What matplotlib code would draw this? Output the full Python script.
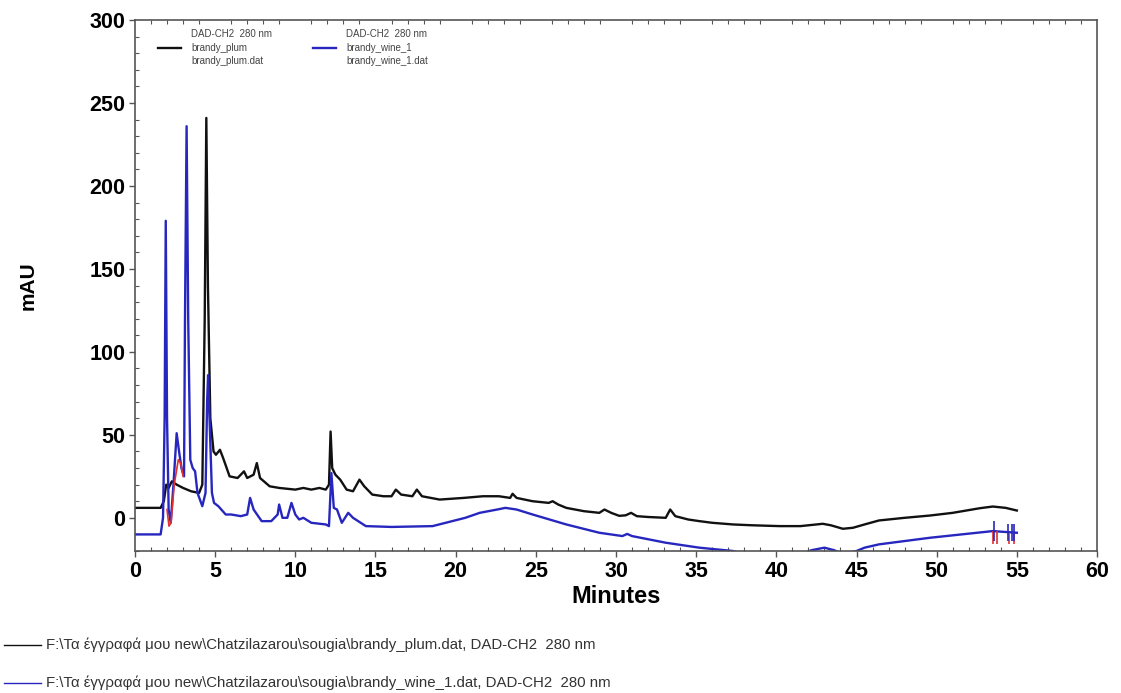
import matplotlib
matplotlib.use("Agg")
import matplotlib.pyplot as plt
from matplotlib.lines import Line2D
from matplotlib.ticker import MultipleLocator

# ---------------- data ----------------
plum_t = [0, 1.6, 1.8, 1.95, 2.1, 2.3, 2.6, 3.0, 3.5, 4.0, 4.2, 4.35, 4.45, 4.55,
          4.7, 4.9, 5.05, 5.3, 5.5, 5.9, 6.4, 6.8, 7.0, 7.4, 7.6, 7.8, 8.4, 9.0,
          10.0, 10.5, 11.0, 11.5, 11.9, 12.1, 12.2, 12.3, 12.5, 12.8, 13.2, 13.6,
          14.0, 14.3, 14.8, 15.5, 16.0, 16.27, 16.6, 17.3, 17.58, 17.9, 19.0, 20.5,
          21.7, 22.7, 23.4, 23.55, 23.8, 24.8, 25.8, 26.05, 26.4, 26.9, 28.0, 28.96,
          29.28, 29.7, 30.2, 30.6, 30.94, 31.3, 32.0, 33.1, 33.38, 33.7, 34.5, 35.2,
          36.0, 37.3, 38.5, 40.2, 41.5, 42.5, 42.9, 43.4, 44.15, 44.78, 45.5, 46.4,
          48.0, 49.6, 51.0, 52.7, 53.5, 54.3, 55.0]
plum_v = [6, 6, 10, 20, 18, 22, 20, 18, 16, 15, 20, 120, 241, 140,
          60, 40, 38, 41, 36, 25, 24, 28, 24, 26, 33, 24, 19, 18,
          17, 18, 17, 18, 17, 20, 52, 30, 26, 23, 17, 16,
          23, 19, 14, 13, 13, 17, 14, 13, 17, 13, 11, 12,
          13, 13, 12, 14.5, 12, 10, 9, 10, 8, 6, 4, 3,
          5, 3, 1.2, 1.5, 3, 1, 0.5, 0, 5, 1, -1, -2,
          -3, -4, -4.5, -5, -5, -4, -3.6, -4.5, -6.6, -6, -4, -1.6,
          0, 1.4, 3, 5.8, 6.8, 6, 4.4]

wine_t = [0, 1.6, 1.75, 1.85, 1.92, 2.0, 2.1, 2.23, 2.4, 2.6, 2.75, 2.9, 3.06, 3.12,
          3.22, 3.32, 3.45, 3.6, 3.75, 3.9, 4.2, 4.4, 4.5, 4.56, 4.65, 4.8, 4.93,
          5.2, 5.66, 6.0, 6.6, 7.0, 7.18, 7.4, 7.9, 8.5, 8.9, 8.99, 9.2, 9.5, 9.76,
          10.0, 10.24, 10.5, 11.0, 11.9, 12.1, 12.25, 12.4, 12.6, 12.9, 13.3, 13.6,
          14.4, 16.0, 18.56, 20.6, 21.5, 22.7, 23.1, 23.8, 24.8, 26.9, 28.96, 30.4,
          30.7, 31.0, 33.1, 35.2, 37.3, 38.0, 40.0, 41.5, 42.2, 43.0, 43.6, 44.2,
          45.0, 45.5, 46.4, 49.6, 53.5, 55.0]
wine_v = [-10, -10, 0, 60, 179, 60, 5, -3, 20, 51, 40, 30, 25, 120,
          236, 120, 35, 30, 28, 15, 7, 15, 70, 86, 60, 15, 9,
          7, 2, 2, 1, 2, 12, 5, -2, -2, 2, 8, 0, 0, 9,
          2, -1, 0, -3, -4, -5, 27, 6, 5, -3, 3, 0,
          -5, -5.5, -5, 0, 3, 5.2, 6, 5, 2, -4, -9, -11,
          -9.7, -11, -15, -18, -20, -22, -24, -22, -19.5, -18, -19.5, -22,
          -20, -18, -16, -12, -8, -9]

# integration overlay (red) near the first peaks
red_t = [2.0, 2.12, 2.25, 2.45, 2.7, 2.85, 3.0]
red_v = [5, -5, -3, 20, 35, 33, 25]

# event marks at the end of the run
mark_blue_t = [53.6, 54.45, 54.7, 54.85]
mark_blue_lo = [-14, -14, -14, -14]
mark_blue_hi = [-2, -4, -4, -4]
mark_red_t = [53.5, 53.75, 54.5, 54.8]
mark_red_lo = [-16, -16, -16, -16]
mark_red_hi = [-8, -8, -9, -9]

x_ticks = [0, 5, 10, 15, 20, 25, 30, 35, 40, 45, 50, 55, 60]
y_ticks = [0, 50, 100, 150, 200, 250, 300]

legend_labels = ["DAD-CH2  280 nm\nbrandy_plum\nbrandy_plum.dat",
                 "DAD-CH2  280 nm\nbrandy_wine_1\nbrandy_wine_1.dat"]
footer_labels = [
    "F:\\Τα έγγραφά μου new\\Chatzilazarou\\sougia\\brandy_plum.dat, DAD-CH2  280 nm",
    "F:\\Τα έγγραφά μου new\\Chatzilazarou\\sougia\\brandy_wine_1.dat, DAD-CH2  280 nm",
]

BLACK = "#111111"
BLUE = "#2727bf"
RED = "#e03030"

plt.rcParams['font.family'] = ['Liberation Sans', 'DejaVu Sans']

fig = plt.figure(figsize=(11.21, 6.93), dpi=100)
ax = fig.add_axes([0.1204, 0.2049, 0.8582, 0.7662])

l1, = ax.plot(plum_t, plum_v, color=BLACK, lw=1.7)
l2, = ax.plot(wine_t, wine_v, color=BLUE, lw=1.7)
ax.plot(red_t, red_v, color=RED, lw=1.2)
ax.vlines(mark_red_t, mark_red_lo, mark_red_hi, color=RED, lw=1.2)
ax.vlines(mark_blue_t, mark_blue_lo, mark_blue_hi, color=BLUE, lw=1.2)

ax.set_xlim(0, 60)
ax.set_ylim(-20, 300)
ax.set_xticks(x_ticks)
ax.set_yticks(y_ticks)
ax.xaxis.set_minor_locator(MultipleLocator(1))
ax.yaxis.set_minor_locator(MultipleLocator(10))
ax.tick_params(which='major', direction='out', length=4, width=1, color='#555555',
               labelsize=15.5, pad=3)
ax.tick_params(which='minor', direction='in', length=3, width=0.8, color='#555555',
               top=True, right=False)
for lab in ax.get_xticklabels() + ax.get_yticklabels():
    lab.set_fontweight('bold')
for s in ax.spines.values():
    s.set_color('#555555')
    s.set_linewidth(1.2)

ax.set_xlabel("Minutes", fontsize=17, fontweight='bold', labelpad=2)
ax.set_ylabel("mAU", fontsize=15, fontweight='bold', labelpad=37)

leg = ax.legend([l1, l2], legend_labels, loc='upper left', bbox_to_anchor=(0.017, 0.995),
                ncol=2, fontsize=7, frameon=False, handlelength=2.4,
                handletextpad=1.0, columnspacing=4.2, labelcolor='#444444',
                borderaxespad=0.3, labelspacing=0.6)
for t in leg.get_texts():
    t.set_linespacing(1.4)

# footer lines
for i, (lab, col) in enumerate(zip(footer_labels, [BLACK, BLUE])):
    yf = 1 - (645 + 38 * i) / 693
    fig.add_artist(Line2D([0.004, 0.037], [yf, yf], color=col, lw=1.0,
                          transform=fig.transFigure))
    fig.text(0.041, yf, lab, fontsize=10.8, color='#333333', va='center', ha='left')

fig.savefig("out.png", dpi=100)
